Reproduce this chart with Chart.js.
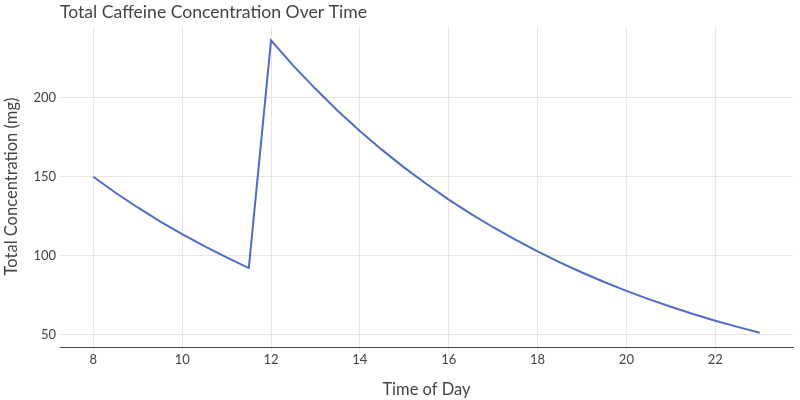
<!DOCTYPE html>
<html>
<head>
<meta charset="utf-8">
<script src="https://cdn.jsdelivr.net/npm/chart.js@4/dist/chart.umd.min.js"></script>
<style>
html,body{margin:0;padding:0;background:#fff;}
#wrap{width:800px;height:400px;}
</style>
</head>
<body>
<div id="wrap"><canvas id="c" width="800" height="400"></canvas></div>
<script>
const hours = [8,8.5,9,9.5,10,10.5,11,11.5,12,12.5,13,13.5,14,14.5,15,15.5,16,16.5,17,17.5,18,18.5,19,19.5,20,20.5,21,21.5,22,22.5,23];
const concentration = [150,139.9,130.6,121.8,113.7,106.1,99.0,92.3,236.2,220.3,205.6,191.8,179.0,167.0,155.8,145.4,135.6,126.5,118.1,110.2,102.8,95.9,89.5,83.5,77.9,72.7,67.8,63.3,59.0,55.1,51.4];
const xTicks = [8,10,12,14,16,18,20,22];
const yTicks = [50,100,150,200];

const textColor = '#444';
Chart.defaults.font.family = 'Lato, sans-serif';
Chart.defaults.color = textColor;

new Chart(document.getElementById('c'), {
  type: 'line',
  data: {
    datasets: [{
      data: hours.map((h,i)=>({x:h, y:concentration[i]})),
      borderColor: '#4f6bcb',
      borderWidth: 2,
      pointRadius: 0,
      tension: 0,
      fill: false
    }]
  },
  options: {
    responsive: false,
    animation: false,
    layout: { padding: { left: 0, right: 7, top: 0, bottom: 0 } },
    plugins: {
      legend: { display: false },
      tooltip: { enabled: false },
      title: {
        display: true,
        text: 'Total Caffeine Concentration Over Time',
        align: 'start',
        fullSize: false,
        color: textColor,
        font: { size: 17.6, weight: 'normal' },
        padding: { top: 2, bottom: 2.9 }
      }
    },
    scales: {
      x: {
        type: 'linear',
        min: 7.25,
        max: 23.75,
        afterBuildTicks: s => { s.ticks = xTicks.map(v => ({value: v})); },
        afterFit: s => { s.height = 53; },
        grid: { color: '#e6e6e6', tickLength: 4, tickColor: '#e6e6e6' },
        border: { display: true, color: '#444', width: 1 },
        ticks: { font: { size: 13 }, color: textColor, padding: 1, maxRotation: 0 },
        title: { display: true, text: 'Time of Day', font: { size: 16.5 }, color: textColor, padding: { top: 6, bottom: 0 } }
      },
      y: {
        type: 'linear',
        min: 42.4,
        max: 245.3,
        afterBuildTicks: s => { s.ticks = yTicks.map(v => ({value: v})); },
        afterFit: s => { s.width = 60; },
        grid: { color: '#e6e6e6', tickLength: 0 },
        border: { display: false },
        ticks: { font: { size: 13 }, color: textColor, padding: 4 },
        title: { display: true, text: 'Total Concentration (mg)', font: { size: 16.5 }, color: textColor, padding: { top: 2, bottom: 0 } }
      }
    }
  }
});
</script>
</body>
</html>
